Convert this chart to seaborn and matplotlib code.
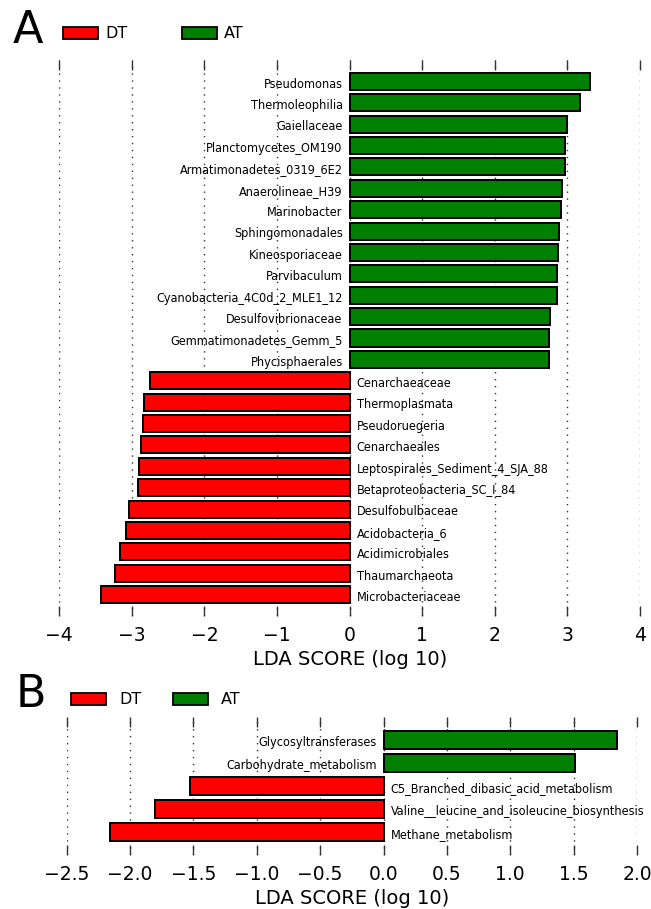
import matplotlib
matplotlib.use("Agg")
import matplotlib.pyplot as plt
from matplotlib import font_manager
from matplotlib.patches import Patch
import seaborn as sns
import pandas as pd

# ---------------- data ----------------
a_at_labels = ["Pseudomonas", "Thermoleophilia", "Gaiellaceae", "Planctomycetes_OM190",
               "Armatimonadetes_0319_6E2", "Anaerolineae_H39", "Marinobacter",
               "Sphingomonadales", "Kineosporiaceae", "Parvibaculum",
               "Cyanobacteria_4C0d_2_MLE1_12", "Desulfovibrionaceae",
               "Gemmatimonadetes_Gemm_5", "Phycisphaerales"]
a_at_scores = [3.31, 3.17, 2.99, 2.97, 2.97, 2.92, 2.91, 2.89, 2.87, 2.85, 2.85, 2.76, 2.74, 2.74]
a_dt_labels = ["Cenarchaeaceae", "Thermoplasmata", "Pseudoruegeria", "Cenarchaeales",
               "Leptospirales_Sediment_4_SJA_88", "Betaproteobacteria_SC_I_84",
               "Desulfobulbaceae", "Acidobacteria_6", "Acidimicrobiales",
               "Thaumarchaeota", "Microbacteriaceae"]
a_dt_scores = [-2.75, -2.84, -2.85, -2.88, -2.90, -2.91, -3.04, -3.08, -3.17, -3.23, -3.43]

b_at_labels = ["Glycosyltransferases", "Carbohydrate_metabolism"]
b_at_scores = [1.84, 1.51]
b_dt_labels = ["C5_Branched_dibasic_acid_metabolism",
               "Valine__leucine_and_isoleucine_biosynthesis", "Methane_metabolism"]
b_dt_scores = [-1.53, -1.80, -2.16]

groups = ["DT", "AT"]
colors = {"DT": "#ff0000", "AT": "#008000"}

a_ticks = [-4, -3, -2, -1, 0, 1, 2, 3, 4]
b_ticks = [-2.5, -2.0, -1.5, -1.0, -0.5, 0.0, 0.5, 1.0, 1.5, 2.0]

# ---------------- fonts ----------------
cond = [f.fname for f in font_manager.fontManager.ttflist
        if f.fname.endswith("DejaVuSansCondensed.ttf")]
if cond:
    label_fp = font_manager.FontProperties(fname=cond[0], size=9.1)
else:
    label_fp = font_manager.FontProperties(family="DejaVu Sans", size=8.0)

sns.set_theme(style="white")
plt.rcParams["font.family"] = ["DejaVu Sans"]
plt.rcParams["axes.unicode_minus"] = True
for k in ["text.color", "axes.labelcolor", "xtick.color", "ytick.color"]:
    plt.rcParams[k] = "black"

W, H = 651, 909
fig = plt.figure(figsize=(W / 100, H / 100), dpi=100)


def frac_axes(left_px, top_px, right_px, bottom_px):
    return fig.add_axes([left_px / W, 1 - bottom_px / H,
                         (right_px - left_px) / W, (bottom_px - top_px) / H])


def draw_panel(ax, at_labels, at_scores, dt_labels, dt_scores, xlim, ticks, fmt):
    df = pd.DataFrame({
        "feature": at_labels + dt_labels,
        "score": at_scores + dt_scores,
        "group": ["AT"] * len(at_labels) + ["DT"] * len(dt_labels),
    })
    sns.barplot(data=df, x="score", y="feature", hue="group", palette=colors,
                dodge=False, orient="h", width=0.8, edgecolor="black",
                linewidth=1.4, legend=False, ax=ax, order=list(df["feature"]),
                saturation=1)
    n = len(df)
    ax.set_ylim(n, -1)
    ax.set_xlim(*xlim)
    ax.set_xticks(ticks)
    ax.set_xticklabels([fmt(t) for t in ticks])
    ax.set_yticks([])
    ax.set_ylabel("")
    ax.set_xlabel("LDA SCORE (log 10)", fontsize=14, labelpad=4, color="black")
    for s in ax.spines.values():
        s.set_visible(False)
    ax.xaxis.grid(True, linestyle=(0, (1, 4)), color="#333333", linewidth=1.0)
    ax.yaxis.grid(False)
    ax.tick_params(axis="x", which="major", direction="in", length=7, width=1,
                   color="#333333", labelcolor="black", top=True, bottom=True,
                   labelsize=13.5, pad=7)
    for i, (lab, val) in enumerate(zip(df["feature"], df["score"])):
        if val >= 0:
            ax.annotate(lab, xy=(0, i), xytext=(-5, -2), textcoords="offset points",
                        ha="right", va="center", fontproperties=label_fp, color="black")
        else:
            ax.annotate(lab, xy=(0, i), xytext=(5, -2), textcoords="offset points",
                        ha="left", va="center", fontproperties=label_fp, color="black")


# Panel A
axA = frac_axes(59.3, 60, 640, 616)
draw_panel(axA, a_at_labels, a_at_scores, a_dt_labels, a_dt_scores,
           (-4, 4), a_ticks, lambda t: f"{t:d}".replace("-", "\u2212"))

# Panel B
axB = frac_axes(66.7, 717, 637, 855)
draw_panel(axB, b_at_labels, b_at_scores, b_dt_labels, b_dt_scores,
           (-2.5, 2.0), b_ticks, lambda t: f"{t:.1f}".replace("-", "\u2212"))

# panel letters
fig.text(13 / W, 1 - 43 / H, "A", fontsize=32, ha="left", va="baseline", color="black")
fig.text(16 / W, 1 - 707 / H, "B", fontsize=32, ha="left", va="baseline", color="black")

handles = [Patch(facecolor=colors[g], edgecolor="black", linewidth=1.3, label=g) for g in groups]
fig.legend(handles=handles, loc="center left", bbox_to_anchor=(63 / W, 1 - 34 / H),
           ncol=2, frameon=False, fontsize=11.5, handlelength=2.2, handleheight=0.75,
           handletextpad=0.45, columnspacing=3.4, borderpad=0, borderaxespad=0,
           labelcolor="black")
fig.legend(handles=handles, loc="center left", bbox_to_anchor=(71 / W, 1 - 700 / H),
           ncol=2, frameon=False, fontsize=11.5, handlelength=2.2, handleheight=0.75,
           handletextpad=0.8, columnspacing=2.0, borderpad=0, borderaxespad=0,
           labelcolor="black")

fig.savefig("out.png", dpi=100)
